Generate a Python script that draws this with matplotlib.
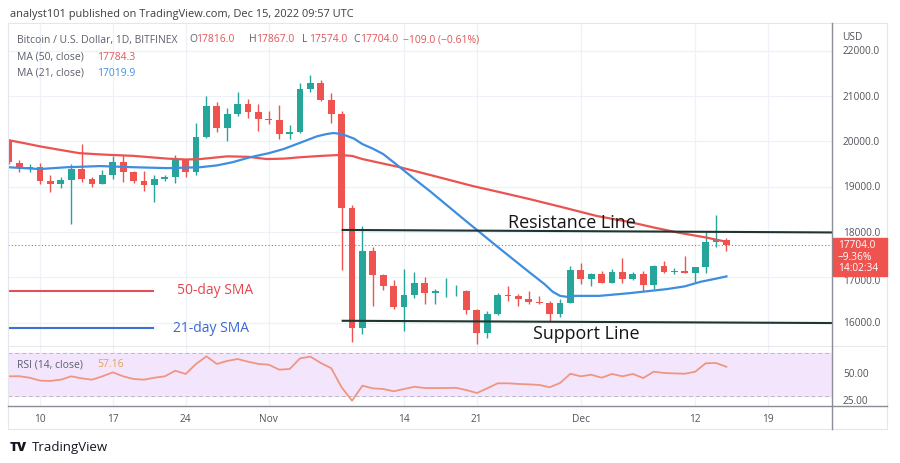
import numpy as np
import pandas as pd
import matplotlib
matplotlib.use("Agg")
import matplotlib.pyplot as plt
import matplotlib.dates as mdates
from matplotlib.patches import Rectangle
from matplotlib.lines import Line2D
from matplotlib.transforms import Bbox

plt.rcParams['font.family'] = ['Open Sans', 'DejaVu Sans']

# ---- data (BTC/USD daily, Bitfinex) ----
dates = pd.date_range("2022-10-07", "2022-12-15", freq="D")

opens = [20010, 19520, 19420, 19440, 19130, 19060, 19150, 19380, 19180, 19070,
         19260, 19550, 19330, 19120, 19040, 19170, 19210, 19580, 19330, 20100,
         20780, 20300, 20600, 20830, 20640, 20500, 20480, 20160, 20210, 21160,
         21300, 20920, 20600, 18540, 15890, 17590, 17050, 16810, 16340, 16610,
         16870, 16650, 16690, 16690, 16690, 16270, 15770, 16200, 16600, 16580,
         16520, 16450, 16430, 16200, 16430, 17160, 16960, 17070, 16880, 17120,
         16960, 17070, 16820, 17240, 17120, 17130, 17090, 17220, 17780, 17816]
highs = [20050, 19600, 19500, 19520, 19250, 19220, 19500, 19950, 19220, 19370,
         19680, 19700, 19350, 19340, 19250, 19260, 19700, 19600, 20400, 21000,
         20880, 20740, 21080, 20930, 20830, 20680, 20800, 20370, 21300, 21470,
         21350, 21060, 20680, 18600, 18130, 17670, 17080, 16940, 17180, 17110,
         17000, 16740, 16990, 16820, 16720, 16290, 16250, 16660, 16800, 16620,
         16690, 16590, 16480, 16520, 17250, 17320, 17100, 17140, 17180, 17420,
         17120, 17130, 17280, 17360, 17200, 17480, 17230, 18000, 18380, 17867]
lows = [19500, 19330, 19330, 19050, 18880, 18980, 18180, 19100, 19000, 19060,
        19160, 19100, 19080, 18900, 18660, 19120, 19080, 19220, 19250, 20070,
        20210, 20000, 20560, 20520, 20240, 20390, 20060, 20050, 20180, 21080,
        20900, 20400, 17150, 15580, 15750, 16360, 16730, 16310, 15820, 16540,
        16400, 16420, 16570, 16590, 16200, 15530, 15650, 16160, 16480, 16360,
        16420, 16400, 16030, 16120, 16430, 16850, 16800, 16880, 16870, 16880,
        16930, 16700, 16740, 17100, 17080, 17090, 16890, 17090, 17660, 17574]
closes = [19540, 19420, 19440, 19130, 19060, 19150, 19380, 19180, 19070, 19260,
          19550, 19330, 19120, 19040, 19170, 19210, 19580, 19330, 20100, 20780,
          20300, 20600, 20830, 20640, 20500, 20480, 20160, 20210, 21160, 21300,
          20920, 20600, 18540, 15890, 17590, 17050, 16810, 16340, 16610, 16870,
          16650, 16690, 16690, 16690, 16270, 15770, 16200, 16600, 16580, 16520,
          16450, 16430, 16200, 16430, 17160, 16960, 17070, 16880, 17120, 16960,
          17070, 16820, 17240, 17120, 17130, 17090, 17220, 17780, 17816, 17704]

rsi_vals = [48.3, 48.4, 47.0, 44.3, 44.0, 45.2, 48.3, 46.4, 45.2, 48.3,
            52.0, 48.3, 45.8, 45.2, 47.0, 48.3, 53.5, 50.5, 59.8, 66.9,
            59.8, 62.6, 64.4, 61.9, 59.8, 59.1, 54.5, 55.1, 65.0, 66.6,
            60.7, 55.8, 38.1, 25.6, 39.6, 37.1, 36.5, 34.4, 36.5, 38.6,
            37.4, 37.4, 37.4, 37.6, 35.5, 32.8, 37.1, 41.8, 41.8, 41.2,
            40.8, 40.3, 38.1, 42.1, 50.7, 48.3, 49.8, 47.0, 50.5, 48.3,
            50.5, 46.7, 52.6, 51.4, 51.0, 50.7, 52.6, 60.4, 60.7, 57.2]

# moving averages sampled along the lines (days after Oct 10)
ma50_day = [-3.1, -1.5, 0, 2, 3.8, 6, 9, 12.2, 14, 15.4, 18, 20, 21.8, 23.5,
            25, 27, 28.8, 30, 31, 32.8, 34.6, 38, 41.6, 44, 47, 50, 53.6,
            56.7, 59, 61.5, 64, 66]
ma50_val = [20030, 19960, 19890, 19810, 19740, 19710, 19680, 19620, 19600,
            19610, 19670, 19660, 19610, 19620, 19650, 19680, 19700, 19680,
            19610, 19520, 19430, 19230, 19015, 18890, 18730, 18560, 18350,
            18220, 18100, 17980, 17880, 17784]
ma21_day = [-3.1, 0, 2.6, 5.8, 9, 12.2, 15.4, 17, 18.5, 20.2, 22, 23.4, 24.9,
            26.6, 27.5, 28.2, 28.8, 29.4, 30.2, 31, 32, 33, 34.6, 36, 37.5,
            40.7, 43.9, 47, 48.5, 49.3, 50, 50.6, 51.5, 53.8, 56.7, 60.3,
            62, 63.5, 65, 66]
ma21_val = [19430, 19390, 19430, 19455, 19430, 19410, 19430, 19470, 19540,
            19650, 19740, 19830, 19960, 20110, 20160, 20185, 20170, 20130,
            20060, 19940, 19840, 19720, 19430, 19170, 18900, 18290, 17690,
            17120, 16850, 16680, 16590, 16570, 16590, 16590, 16650, 16740,
            16800, 16900, 16970, 17020]

price_ticks = [16000, 17000, 18000, 19000, 20000, 21000, 22000]
tick_dates = ["2022-10-10", "2022-10-17", "2022-10-24", "2022-11-01", "2022-11-14",
              "2022-11-21", "2022-12-01", "2022-12-12", "2022-12-19"]
tick_labels = ["10", "17", "24", "Nov", "14", "21", "Dec", "12", "19"]

last_close = 17704.0
resistance = [18045, 17990]
support = [16040, 15990]

# ---- layout helpers (pixel -> figure coords) ----
W, H = 900, 464
def fx(px):
    return px / W
def fy(py):
    return 1 - py / H

fig = plt.figure(figsize=(9, 4.64), dpi=100)
fig.patch.set_facecolor('white')

ax = fig.add_axes([fx(8), fy(347), (832 - 8) / W, (347 - 24) / H])
rsi = fig.add_axes([fx(8), fy(407), (832 - 8) / W, (407 - 347) / H], sharex=ax)

x = mdates.date2num(dates)
base = mdates.date2num(pd.Timestamp("2022-10-10"))
x0, x1 = base - 3.08, base + 76.15
ax.set_xlim(x0, x1)
ax.set_ylim(15483, 22614)
rsi.set_ylim(20.7, 76.5)

grid_c = '#eef1f7'
tx = mdates.date2num(pd.to_datetime(tick_dates))
for a in (ax, rsi):
    for s in a.spines.values():
        s.set_visible(False)
    a.tick_params(left=False, right=False, top=False, bottom=False,
                  labelleft=False, labelbottom=False)
    for t in tx:
        a.axvline(t, color=grid_c, lw=0.9, zorder=0)
for p in price_ticks:
    ax.axhline(p, color=grid_c, lw=0.9, zorder=0)

# candles
up_c, dn_c = '#26a69a', '#ef5350'
o = np.array(opens); c = np.array(closes)
cols = [up_c if cc >= oo else dn_c for oo, cc in zip(o, c)]
ax.vlines(x, lows, highs, colors=cols, lw=1.0, zorder=3)
body_h = np.maximum(np.abs(c - o), 18)
ax.bar(x, body_h, bottom=np.minimum(o, c), width=0.66, color=cols, zorder=4,
       linewidth=0)

# moving averages
ax.plot(base + np.array(ma50_day), ma50_val, color='#ec5350', lw=1.6, zorder=5)
ax.plot(base + np.array(ma21_day), ma21_val, color='#3d8ee0', lw=1.6, zorder=5)

# last price dotted line
ax.axhline(last_close, color='#ef5350', lw=0.8, ls=(0, (1, 2)), zorder=2)

# resistance / support
line_c = '#1f3630'
x_start = base + 29.0
ax.plot([x_start, x1], resistance, color=line_c, lw=1.5, zorder=6, solid_capstyle='butt')
ax.plot([x_start, x1], support, color=line_c, lw=1.5, zorder=6, solid_capstyle='butt')
fig.text(fx(508), fy(223), "Resistance Line", fontsize=12.9, color='#151515',
         va='center', ha='left')
fig.text(fx(533), fy(334), "Support Line", fontsize=12.9, color='#151515',
         va='center', ha='left')

# SMA legend drawn on chart
fig.add_artist(Line2D([fx(10), fx(153)], [fy(291.5), fy(291.5)], color='#e05056', lw=1.5))
fig.add_artist(Line2D([fx(10), fx(153)], [fy(329), fy(329)], color='#3d6fd6', lw=1.5))
fig.text(fx(177), fy(290), "50-day SMA", fontsize=10, color='#e2474f', va='center')
fig.text(fx(173), fy(329), "21-day SMA", fontsize=10, color='#3a66d6', va='center')

# RSI pane
rsi.axhspan(30, 70, color='#f3e6fc', zorder=0)
rsi.axhline(70, color='#b8b8c8', lw=0.7, ls=(0, (4, 3)), zorder=1)
rsi.axhline(30, color='#b8b8c8', lw=0.7, ls=(0, (4, 3)), zorder=1)
rsi.plot(x, rsi_vals, color='#ef9680', lw=1.3, zorder=3)

# frame and separators
frame_c = '#e3e6ec'
fig.add_artist(Rectangle((fx(8), fy(430)), (887 - 8) / W, (430 - 24) / H,
                         fill=False, ec=frame_c, lw=0.8))
fig.add_artist(Line2D([fx(8), fx(887)], [fy(347), fy(347)], color='#e8e8ee', lw=0.8))
fig.add_artist(Line2D([fx(8), fx(887)], [fy(407), fy(407)], color='#8a8d96', lw=1.0))
fig.add_artist(Line2D([fx(832), fx(832)], [fy(24), fy(430)], color='#8a8d96', lw=1.0))

# x tick labels
lab_c = '#505359'
for t, lab in zip(tx, tick_labels):
    px = 8 + (t - x0) / (x1 - x0) * (832 - 8)
    fig.text(fx(px), fy(419), lab, fontsize=7.3, color=lab_c, ha='center', va='center')

# price axis labels (17000 sits mostly behind the last-price box)
box_top, box_bot = 239, 277
for p in price_ticks:
    py = 233 - (p - 18000) * 0.0453
    if box_top < py < box_bot + 8:
        py += 3
    t = fig.text(fx(843), fy(py), f"{p:.1f}", fontsize=7.3, color=lab_c, va='center')
    if box_top < py < box_bot + 12:
        t.set_clip_box(Bbox.from_extents(832, 0, W, H - box_bot))
        t.set_clip_on(True)
fig.text(fx(842), fy(37), "USD", fontsize=7.3, color=lab_c, va='center')
for v, py in [(50, 375), (25, 402)]:
    fig.text(fx(843), fy(py), f"{v:.2f}", fontsize=7.3, color=lab_c, va='center')

# last price box
fig.add_artist(Rectangle((fx(833), fy(box_bot)), (887 - 833) / W, (box_bot - box_top) / H,
                         color='#ef5350', zorder=10))
for s, py in [(f"{last_close:.1f}", 245), ("\u22129.36%", 257), ("14:02:34", 268.5)]:
    fig.text(fx(838), fy(py), s, fontsize=7.3, color='white', va='center', zorder=11)

# header and legend
fig.text(fx(10), fy(14), "analyst101 published on TradingView.com, Dec 15, 2022 09:57 UTC",
         fontsize=7.9, color='#3c3c3c', va='center')
leg_c = '#5d606b'
red_t = '#e0565a'
fig.text(fx(17), fy(40), "Bitcoin / U.S. Dollar, 1D, BITFINEX", fontsize=7.5, color=leg_c, va='center')
ohlc = [("O", opens[-1], 189), ("H", highs[-1], 249), ("L", lows[-1], 302), ("C", closes[-1], 353)]
for k, v, px in ohlc:
    fig.text(fx(px), fy(40), k, fontsize=7.5, color=leg_c, va='center')
    fig.text(fx(px + 7), fy(40), f"{v:.1f}", fontsize=7.5, color=red_t, va='center')
fig.text(fx(403), fy(40), "\u2212109.0 (\u22120.61%)", fontsize=7.5, color=red_t, va='center')
fig.text(fx(17), fy(57), "MA (50, close)", fontsize=7.5, color=leg_c, va='center')
fig.text(fx(97), fy(57), "17784.3", fontsize=7.5, color=red_t, va='center')
fig.text(fx(17), fy(73), "MA (21, close)", fontsize=7.5, color=leg_c, va='center')
fig.text(fx(97), fy(73), "17019.9", fontsize=7.5, color='#3f8fd8', va='center')
fig.text(fx(17), fy(365), "RSI (14, close)", fontsize=7.5, color=leg_c, va='center')
fig.text(fx(97), fy(365), "57.16", fontsize=7.5, color='#e8a052', va='center')

# logo
fig.text(fx(10), fy(448), "TV", fontsize=9.5, color='#131722', va='center',
         fontweight='heavy')
fig.text(fx(32), fy(448), "TradingView", fontsize=9.5, color='#131722', va='center')

fig.savefig("out.png", dpi=100)
